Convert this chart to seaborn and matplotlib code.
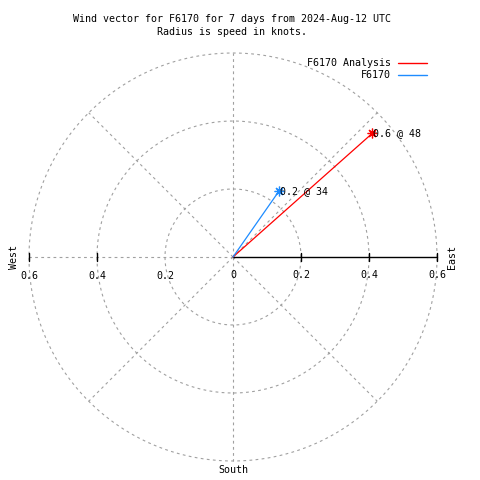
import numpy as np
import pandas as pd
import matplotlib
matplotlib.use("Agg")
import matplotlib.pyplot as plt
from matplotlib.lines import Line2D
import seaborn as sns

# data: compass direction (deg from north) and speed
series = ["F6170 Analysis", "F6170"]
directions = [48.4, 34.9]
speeds = [0.548, 0.238]
point_labels = ["0.6 @ 48", "0.2 @ 34"]
colors = {"F6170 Analysis": "#ff0000", "F6170": "#1e8cff"}
ring_radii = [0.2, 0.4, 0.6]
tick_values = [0.2, 0.4, 0.6]

sns.set_style("white")
plt.rcParams["font.family"] = ["DejaVu Sans Mono"]
plt.rcParams["text.color"] = "black"
FS = 7.2

W = H = 480
CX, CY = 233, 257          # centre in pixels
SCALE = 340.0              # pixels per unit of speed

fig = plt.figure(figsize=(4.8, 4.8), dpi=100)
ax = fig.add_axes([0, 0, 1, 1])
ax.set_xlim(-CX / SCALE, (W - CX) / SCALE)
ax.set_ylim(-(H - CY) / SCALE, CY / SCALE)
ax.set_axis_off()

grid_kw = dict(color="#a0a0a0", lw=0.8, ls=(0, (2.5, 3)))
rmax = ring_radii[-1]

# dashed rings and spokes
t = np.linspace(0, 2 * np.pi, 400)
for r in ring_radii:
    ax.plot(r * np.cos(t), r * np.sin(t), **grid_kw)
for a in range(45, 360, 45):
    th = np.deg2rad(a)
    ax.plot([0, rmax * np.cos(th)], [0, rmax * np.sin(th)], **grid_kw)

# east axis solid with ticks, west axis ticks
ax.plot([0, rmax], [0, 0], color="black", lw=1)
tk = 4 / SCALE
for v in tick_values:
    ax.plot([v, v], [-tk, tk], color="black", lw=1)
for v in tick_values[1:]:
    ax.plot([-v, -v], [-tk, tk], color="black", lw=1)

# tick labels
lab_y = -19 / SCALE
for v in tick_values:
    ax.text(-v, lab_y, f"{v:g}", ha="center", va="center", fontsize=FS)
    ax.text(v, lab_y + 1.5 / SCALE, f"{v:g}", ha="center", va="center", fontsize=FS)
ax.text(0, lab_y + 1.5 / SCALE, "0", ha="center", va="center", fontsize=FS)

# compass labels
ax.text(-(CX - 14) / SCALE, 0, "West", rotation=90, ha="center", va="center", fontsize=FS)
ax.text((452 - CX) / SCALE, 0, "East", rotation=90, ha="center", va="center", fontsize=FS)
ax.text(0, -(470 - CY) / SCALE, "South", ha="center", va="center", fontsize=FS)

# vectors
rows = []
for s, d, sp in zip(series, directions, speeds):
    th = np.deg2rad(d)
    rows.append({"series": s, "step": 0, "x": 0.0, "y": 0.0})
    rows.append({"series": s, "step": 1, "x": sp * np.sin(th), "y": sp * np.cos(th)})
df = pd.DataFrame(rows)
sns.lineplot(data=df, x="x", y="y", hue="series", units="series", estimator=None,
             sort=False, palette=colors, lw=0.9, legend=False, ax=ax)
tips = df[df["step"] == 1]
for (_, row), lab in zip(tips.iterrows(), point_labels):
    ax.plot(row["x"], row["y"], marker=(8, 2, 0), ms=7, mew=0.9,
            color=colors[row["series"]], ls="none")
    ax.text(row["x"] + 1 / SCALE, row["y"], lab, ha="left", va="center", fontsize=FS)

# legend
for i, s in enumerate(series):
    y = 63 + 12 * i
    fig.text(391 / W, 1 - y / H, s, ha="right", va="center", fontsize=FS)
    fig.add_artist(Line2D([398 / W, 427 / W], [1 - y / H, 1 - y / H],
                          color=colors[s], lw=1, transform=fig.transFigure))

fig.text(232 / W, 1 - 19 / H, "Wind vector for F6170 for 7 days from 2024-Aug-12 UTC",
         ha="center", va="center", fontsize=FS)
fig.text(232 / W, 1 - 32 / H, "Radius is speed in knots.", ha="center", va="center", fontsize=FS)

fig.savefig("out.png", dpi=100)
